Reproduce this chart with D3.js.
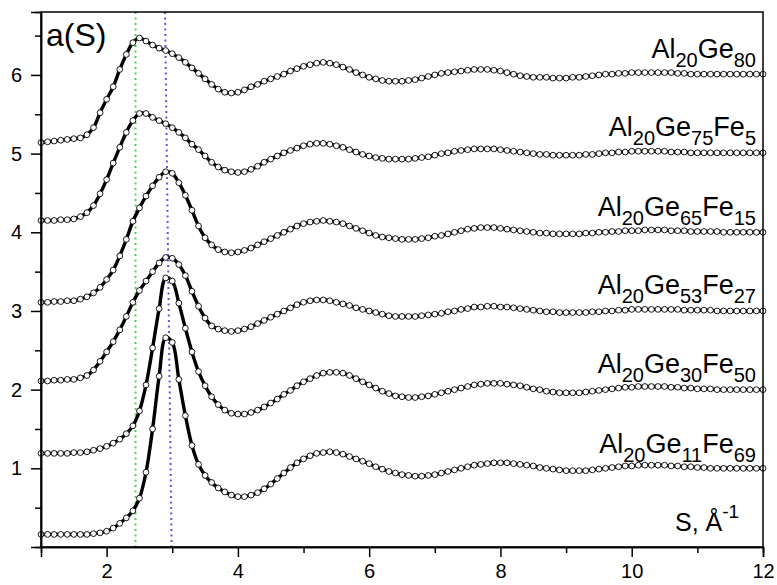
<!DOCTYPE html>
<html>
<head>
<meta charset="utf-8">
<script src="https://cdn.jsdelivr.net/npm/d3@7"></script>
<style>
  html, body { margin: 0; padding: 0; background: #fff; }
  svg { display: block; }
  text { font-family: "Liberation Sans", Arial, sans-serif; fill: #000; }
</style>
</head>
<body>
<svg id="chart" width="777" height="585"></svg>
<script>
// Scattering vector grid, S in 1/Å
const sGrid = d3.range(0, 111).map(i => +(1 + i * 0.1).toFixed(1));

// a(S) curves, each shifted by one unit
const alGe80 = [5.14,5.15,5.16,5.17,5.18,5.19,5.20,5.24,5.33,5.52,5.69,5.85,6.07,6.26,6.41,6.47,6.43,6.38,6.34,6.31,
  6.27,6.22,6.16,6.09,6.02,5.95,5.88,5.82,5.78,5.77,5.78,5.81,5.85,5.88,5.92,5.95,5.98,6.01,6.05,6.08,
  6.11,6.13,6.15,6.16,6.15,6.13,6.10,6.07,6.03,6.00,5.97,5.95,5.93,5.92,5.92,5.92,5.93,5.94,5.96,5.98,
  6.00,6.02,6.03,6.04,6.05,6.06,6.07,6.07,6.07,6.06,6.05,6.03,6.01,5.99,5.98,5.97,5.97,5.97,5.96,5.96,
  5.96,5.97,5.97,5.98,5.99,6.00,6.01,6.01,6.02,6.02,6.03,6.03,6.03,6.03,6.03,6.03,6.03,6.02,6.02,6.01,
  6.01,6.01,6.01,6.01,6.01,6.01,6.01,6.01,6.01,6.01,6.01];
const alGe75Fe5 = [4.15,4.15,4.15,4.16,4.16,4.17,4.20,4.25,4.34,4.49,4.67,4.88,5.08,5.27,5.42,5.51,5.51,5.46,5.42,5.38,
  5.33,5.27,5.20,5.12,5.05,4.97,4.89,4.83,4.79,4.77,4.76,4.77,4.80,4.84,4.89,4.93,4.97,5.01,5.04,5.07,
  5.10,5.12,5.13,5.13,5.12,5.10,5.08,5.05,5.02,4.99,4.97,4.95,4.94,4.93,4.93,4.93,4.93,4.94,4.95,4.96,
  4.98,5.00,5.01,5.03,5.04,5.05,5.06,5.06,5.06,5.06,5.05,5.04,5.03,5.02,5.01,5.00,4.99,4.99,4.98,4.98,
  4.98,4.98,4.98,4.99,4.99,5.00,5.01,5.01,5.02,5.02,5.03,5.03,5.03,5.03,5.03,5.03,5.02,5.02,5.02,5.01,
  5.01,5.01,5.01,5.01,5.01,5.01,5.01,5.01,5.01,5.01,5.01];
const alGe65Fe15 = [3.11,3.11,3.12,3.12,3.13,3.13,3.15,3.18,3.23,3.30,3.40,3.52,3.70,3.91,4.14,4.31,4.46,4.59,4.70,4.77,
  4.75,4.63,4.47,4.28,4.08,3.93,3.84,3.78,3.75,3.74,3.75,3.77,3.80,3.84,3.88,3.92,3.96,4.00,4.04,4.08,
  4.11,4.13,4.14,4.15,4.14,4.13,4.11,4.08,4.05,4.02,3.99,3.96,3.94,3.93,3.92,3.91,3.91,3.91,3.92,3.93,
  3.95,3.96,3.98,4.00,4.02,4.04,4.05,4.06,4.06,4.06,4.05,4.04,4.03,4.02,4.01,4.00,3.99,3.99,3.98,3.98,
  3.98,3.98,3.98,3.99,3.99,4.00,4.00,4.01,4.01,4.02,4.02,4.02,4.03,4.03,4.03,4.03,4.02,4.02,4.02,4.01,
  4.01,4.01,4.01,4.01,4.00,4.00,4.00,4.00,4.00,4.00,4.00];
const alGe53Fe27 = [2.11,2.11,2.12,2.12,2.13,2.13,2.15,2.18,2.25,2.36,2.48,2.61,2.76,2.93,3.11,3.26,3.38,3.50,3.61,3.68,
  3.67,3.59,3.45,3.25,3.06,2.91,2.81,2.77,2.75,2.74,2.75,2.77,2.80,2.84,2.88,2.92,2.96,3.00,3.04,3.08,
  3.11,3.13,3.14,3.14,3.13,3.11,3.09,3.07,3.04,3.02,3.00,2.98,2.96,2.94,2.93,2.93,2.93,2.93,2.94,2.95,
  2.96,2.97,2.99,3.00,3.02,3.03,3.05,3.05,3.06,3.06,3.05,3.05,3.04,3.03,3.02,3.01,3.00,2.99,2.99,2.98,
  2.98,2.98,2.98,2.98,2.99,2.99,3.00,3.00,3.01,3.01,3.02,3.02,3.02,3.02,3.02,3.02,3.02,3.02,3.01,3.01,
  3.01,3.01,3.01,3.00,3.00,3.00,3.00,3.00,3.00,3.00,3.00];
const alGe30Fe50 = [1.19,1.19,1.19,1.19,1.19,1.20,1.20,1.21,1.23,1.25,1.28,1.32,1.37,1.44,1.54,1.73,2.06,2.53,3.03,3.42,
  3.38,3.10,2.78,2.48,2.23,2.05,1.91,1.81,1.74,1.70,1.69,1.69,1.71,1.74,1.78,1.83,1.88,1.94,1.99,2.05,
  2.10,2.14,2.18,2.21,2.22,2.22,2.21,2.18,2.14,2.10,2.06,2.02,1.98,1.95,1.92,1.91,1.90,1.90,1.91,1.92,
  1.94,1.96,1.98,2.00,2.02,2.04,2.06,2.07,2.08,2.08,2.08,2.07,2.06,2.05,2.03,2.01,2.00,1.98,1.97,1.96,
  1.96,1.96,1.96,1.97,1.98,1.99,2.00,2.01,2.02,2.03,2.03,2.04,2.04,2.04,2.04,2.04,2.03,2.03,2.02,2.02,
  2.01,2.01,2.01,2.00,2.00,2.00,2.00,2.00,2.00,2.00,2.00];
const alGe11Fe69 = [0.16,0.16,0.16,0.16,0.16,0.16,0.16,0.16,0.17,0.18,0.20,0.24,0.30,0.37,0.46,0.62,0.95,1.50,2.17,2.66,
  2.60,2.13,1.67,1.29,1.05,0.91,0.82,0.75,0.70,0.66,0.64,0.64,0.66,0.69,0.74,0.80,0.87,0.94,1.01,1.07,
  1.12,1.16,1.19,1.20,1.21,1.20,1.18,1.15,1.12,1.09,1.06,1.02,0.99,0.96,0.94,0.92,0.91,0.90,0.90,0.91,
  0.92,0.94,0.96,0.98,1.00,1.02,1.04,1.05,1.06,1.07,1.07,1.07,1.06,1.05,1.04,1.03,1.01,1.00,0.99,0.98,
  0.97,0.97,0.97,0.97,0.98,0.99,1.00,1.01,1.02,1.03,1.03,1.04,1.04,1.04,1.04,1.04,1.03,1.03,1.02,1.02,
  1.01,1.01,1.00,1.00,1.00,1.00,1.00,1.00,1.00,1.00,1.00];

const seriesValues = [alGe80, alGe75Fe5, alGe65Fe15, alGe53Fe27, alGe30Fe50, alGe11Fe69];

// composition labels: alternating element / subscript pieces
const seriesLabels = [
  ["Al","20","Ge","80"],
  ["Al","20","Ge","75","Fe","5"],
  ["Al","20","Ge","65","Fe","15"],
  ["Al","20","Ge","53","Fe","27"],
  ["Al","20","Ge","30","Fe","50"],
  ["Al","20","Ge","11","Fe","69"]
];
const labelLevels = [6.22, 5.22, 4.21, 3.21, 2.21, 1.2];

// reference positions of the main peaks
const greenLineS = [2.44, 2.44];    // [top, bottom]
const purpleLineS = [2.89, 2.99];   // [top, bottom]

const xMajorTicks = [2, 4, 6, 8, 10, 12];
const xMinorTicks = [3, 5, 7, 9, 11];
const yMajorTicks = [1, 2, 3, 4, 5, 6];
const yMinorTicks = [0.5, 1.5, 2.5, 3.5, 4.5, 5.5, 6.5];

const svg = d3.select("#chart");
const plot = { left: 41, right: 763, top: 12, bottom: 547 };

const x = d3.scaleLinear().domain([1, 12]).range([plot.left, plot.right]);
const y = d3.scaleLinear().domain([0, 6.8]).range([plot.bottom, plot.top]);

// peak guides
function guide(sVals, color) {
  svg.append("line")
    .attr("x1", x(sVals[0])).attr("y1", plot.top)
    .attr("x2", x(sVals[1])).attr("y2", plot.bottom)
    .attr("stroke", color).attr("stroke-width", 2)
    .attr("stroke-dasharray", "2,3.5");
}
guide(greenLineS, "#4fd04f");
guide(purpleLineS, "#6f4fd8");

// curves
const line = d3.line()
  .x((d, i) => x(sGrid[i]))
  .y(d => y(d))
  .curve(d3.curveCatmullRom.alpha(0.5));

const curves = svg.append("g");
seriesValues.forEach(vals => {
  curves.append("path")
    .attr("d", line(vals))
    .attr("fill", "none")
    .attr("stroke", "#000")
    .attr("stroke-width", 3.4)
    .attr("stroke-linejoin", "round");
});
seriesValues.forEach(vals => {
  curves.append("g").selectAll("circle")
    .data(vals)
    .join("circle")
    .attr("cx", (d, i) => x(sGrid[i]))
    .attr("cy", d => y(d))
    .attr("r", 2.9)
    .attr("fill", "#fff")
    .attr("stroke", "#000")
    .attr("stroke-width", 0.9);
});

// frame
svg.append("rect")
  .attr("x", plot.left).attr("y", plot.top)
  .attr("width", plot.right - plot.left).attr("height", plot.bottom - plot.top)
  .attr("fill", "none").attr("stroke", "#000").attr("stroke-width", 1.5);

// axes
function styleAxis(g) {
  g.select(".domain").attr("stroke-width", 1.5);
  g.selectAll(".tick line").attr("stroke-width", 1.5);
  g.selectAll(".tick text").style("font-size", "20px").style("font-family", "'Liberation Sans', Arial, sans-serif");
}
svg.append("g")
  .attr("transform", `translate(0,${plot.bottom})`)
  .call(d3.axisBottom(x).tickValues(xMajorTicks).tickSize(10).tickPadding(7).tickFormat(d3.format("d")))
  .call(styleAxis);
svg.append("g")
  .attr("transform", `translate(0,${plot.bottom})`)
  .call(d3.axisBottom(x).tickValues(xMinorTicks).tickSize(6).tickFormat(""))
  .call(styleAxis);
svg.append("g")
  .attr("transform", `translate(${plot.left},0)`)
  .call(d3.axisLeft(y).tickValues(yMajorTicks).tickSize(10).tickPadding(9).tickFormat(d3.format("d")))
  .call(styleAxis);
svg.append("g")
  .attr("transform", `translate(${plot.left},0)`)
  .call(d3.axisLeft(y).tickValues(yMinorTicks).tickSize(6).tickFormat(""))
  .call(styleAxis);

// composition labels
seriesLabels.forEach((parts, k) => {
  const t = svg.append("text")
    .attr("x", 756)
    .attr("y", y(labelLevels[k]))
    .attr("text-anchor", "end")
    .style("font-size", "27px");
  parts.forEach((p, j) => {
    const sub = j % 2 === 1;
    t.append("tspan")
      .attr("dy", sub ? 9 : (j === 0 ? 0 : -9))
      .style("font-size", sub ? "20px" : "27px")
      .text(p);
  });
});

// axis titles inside the frame
svg.append("text")
  .attr("x", 46).attr("y", 46)
  .style("font-size", "32px")
  .text("a(S)");

const sTitle = svg.append("text")
  .attr("x", 675).attr("y", 531)
  .style("font-size", "25px");
sTitle.append("tspan").text("S, Å");
sTitle.append("tspan").attr("dy", -13).style("font-size", "19px").text("-1");
</script>
</body>
</html>
